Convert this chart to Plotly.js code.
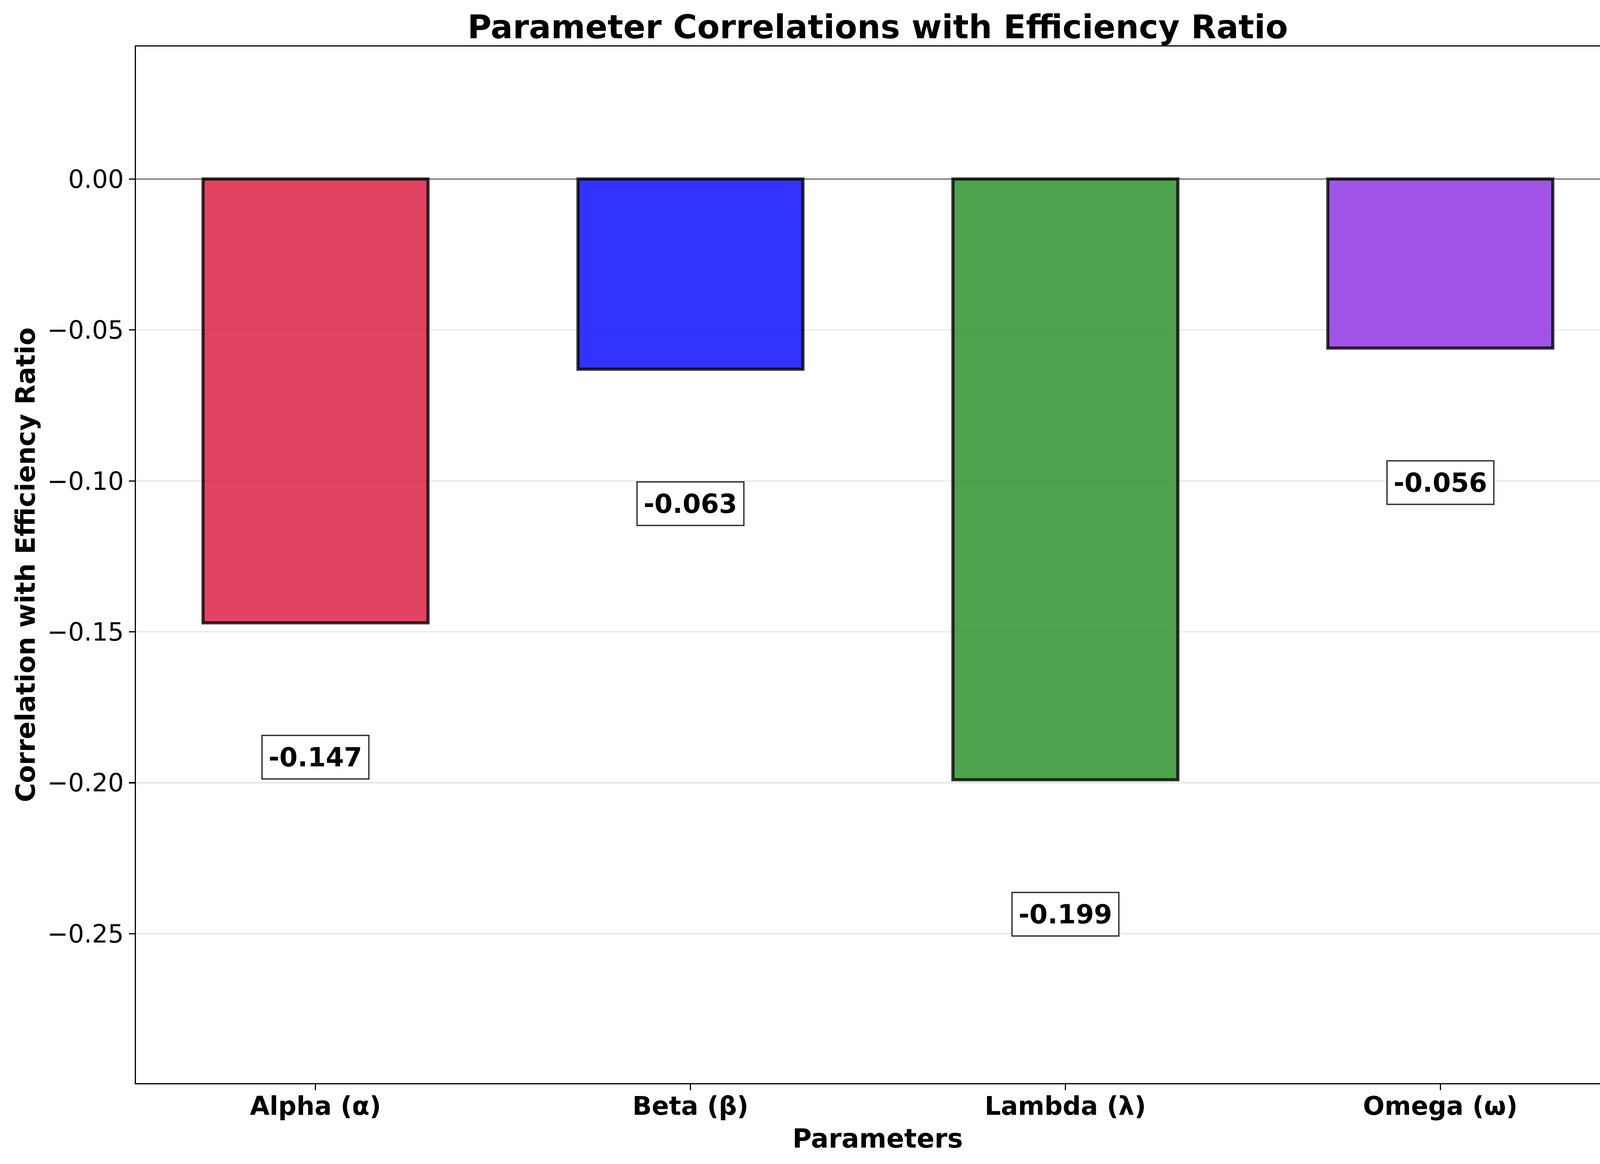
<!DOCTYPE html>
<html>
<head>
<meta charset="utf-8">
<script src="https://cdn.plot.ly/plotly-3.0.1.min.js"></script>
<style>html,body{margin:0;padding:0;background:#fff;}#chart{width:4176px;height:2980px;}</style>
</head>
<body>
<div id="chart"></div>
<script>
const categories = ['Alpha (α)', 'Beta (β)', 'Lambda (λ)', 'Omega (ω)'];
const correlations = [-0.147, -0.063, -0.199, -0.056];
const barColors = ['rgba(220,20,60,0.8)', 'rgba(0,0,255,0.8)', 'rgba(34,139,34,0.8)', 'rgba(138,43,226,0.8)'];
const labelOffset = -0.0445;

const FONT = 'DejaVu Sans, Liberation Sans, sans-serif';

const trace = {
  type: 'bar',
  x: categories,
  y: correlations,
  width: 0.6,
  marker: { color: barColors, line: { color: 'rgba(0,0,0,0.8)', width: 8 } },
  hoverinfo: 'skip'
};

const annotations = categories.map((c, i) => ({
  x: c, y: correlations[i] + labelOffset, xref: 'x', yref: 'y',
  text: correlations[i].toFixed(3),
  showarrow: false,
  font: { family: FONT, size: 67, color: '#000', weight: 'bold' },
  bgcolor: '#ffffff', bordercolor: 'rgba(0,0,0,0.8)', borderwidth: 3.5, borderpad: 15,
  xanchor: 'center', yanchor: 'middle'
}));

const layout = {
  width: 4176, height: 2980,
  margin: { l: 348, r: 30, t: 119, b: 207, pad: 0 },
  paper_bgcolor: '#fff', plot_bgcolor: '#fff',
  showlegend: false,
  font: { family: FONT, color: '#000' },
  title: {
    text: 'Parameter Correlations with Efficiency Ratio',
    font: { family: FONT, size: 84, color: '#000', weight: 'bold' },
    x: 0.5, xref: 'paper', xanchor: 'center',
    y: 1, yref: 'paper', yanchor: 'bottom', pad: { b: 21 }
  },
  xaxis: {
    type: 'category',
    range: [-0.479, 3.478],
    showgrid: false, zeroline: false,
    showline: true, mirror: true, linecolor: '#000', linewidth: 3.3,
    ticks: 'outside', ticklen: 15, tickwidth: 3.3, tickcolor: '#000',
    tickfont: { family: FONT, size: 65, color: '#000', weight: 'bold' },
    ticklabelstandoff: -15,
    title: { text: 'Parameters', font: { family: FONT, size: 67, color: '#000', weight: 'bold' }, standoff: 23 },
    automargin: false, fixedrange: true
  },
  yaxis: {
    range: [-0.2995, 0.0439],
    tick0: 0, dtick: 0.05, tickformat: '.2f',
    showgrid: true, gridcolor: '#e7e7e7', gridwidth: 3.3,
    zeroline: false,
    showline: true, mirror: true, linecolor: '#000', linewidth: 3.3,
    ticks: 'outside', ticklen: 15, tickwidth: 3.3, tickcolor: '#000',
    tickfont: { family: FONT, size: 64, color: '#000' },
    ticklabelstandoff: 0,
    title: { text: 'Correlation with Efficiency Ratio', font: { family: FONT, size: 67, color: '#000', weight: 'bold' }, standoff: 10 },
    automargin: false, fixedrange: true
  },
  shapes: [{
    type: 'line', xref: 'paper', yref: 'y', x0: 0, x1: 1, y0: 0, y1: 0,
    line: { color: 'rgba(0,0,0,0.5)', width: 3.3 }, layer: 'above'
  }],
  annotations: annotations
};

Plotly.newPlot('chart', [trace], layout, { staticPlot: true, displayModeBar: false });
</script>
</body>
</html>
